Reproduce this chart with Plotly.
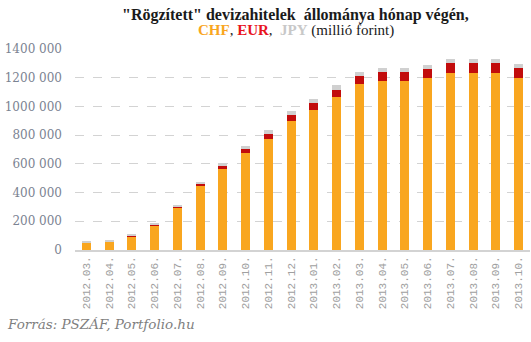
import plotly.graph_objects as go

# Monthly stock of "fixed-rate" FX loans (million HUF), by currency
months = ["2012.03.", "2012.04.", "2012.05.", "2012.06.", "2012.07.", "2012.08.",
          "2012.09.", "2012.10.", "2012.11.", "2012.12.", "2013.01.", "2013.02.",
          "2013.03.", "2013.04.", "2013.05.", "2013.06.", "2013.07.", "2013.08.",
          "2013.09.", "2013.10."]
chf = [51000, 60000, 93000, 169000, 295000, 448000, 566000, 678000, 775000, 901000,
       977000, 1068000, 1159000, 1179000, 1179000, 1200000, 1235000, 1235000,
       1235000, 1200000]
eur = [1000, 1000, 7000, 7000, 7000, 14000, 21000, 28000, 35000, 42000,
       49000, 49000, 55000, 63000, 63000, 63000, 70000, 70000, 70000, 70000]
jpy = [9000, 4000, 7000, 7000, 14000, 14000, 21000, 21000, 28000, 27000,
       28000, 35000, 28000, 28000, 28000, 28000, 28000, 28000, 28000, 28000]

y_ticks = [0, 200000, 400000, 600000, 800000, 1000000, 1200000, 1400000]
y_tick_text = ["0", "200 000", "400 000", "600 000", "800 000",
               "1000 000", "1200 000", "1400 000"]

CHF_COLOR = "#F9A61F"
EUR_COLOR = "#C20C0C"
JPY_COLOR = "#D0D0D0"
GRID = "#D3D3D3"

fig = go.Figure()
for name, vals, col in [("CHF", chf, CHF_COLOR), ("EUR", eur, EUR_COLOR), ("JPY", jpy, JPY_COLOR)]:
    fig.add_trace(go.Bar(x=months, y=vals, name=name, marker=dict(color=col, line=dict(width=0))))

fig.update_layout(
    barmode="stack",
    bargap=0.6,
    showlegend=False,
    width=531, height=342,
    margin=dict(l=75, r=1, t=49, b=92),
    plot_bgcolor="white", paper_bgcolor="white",
    xaxis=dict(
        type="category", tickangle=-90, showgrid=False,
        tickfont=dict(family="Liberation Mono", size=11, color="#a0a0a0"),
        showline=True, linecolor=GRID, linewidth=2, ticks="",
    ),
    yaxis=dict(
        range=[0, 1400000], tickvals=y_ticks, ticktext=y_tick_text,
        tickfont=dict(family="DejaVu Serif", size=12, color="#7b8392"),
        showgrid=True, gridcolor=GRID, griddash="dash", gridwidth=1,
        zeroline=False, ticks="", ticklabelstandoff=12,
    ),
    annotations=[
        dict(text='<b>"Rögzített" devizahitelek  állománya hónap végén,</b>',
             x=295, y=15, xref="paper", yref="paper", showarrow=False,
             font=dict(family="Liberation Serif", size=16, color="#1a1a1a")),
        dict(text=('<b><span style="color:#F9A61F">CHF</span></b>, '
                   '<b><span style="color:#E8141E">EUR</span></b>,  '
                   '<b><span style="color:#C8C8C8">JPY</span></b> (millió forint)'),
             x=296, y=30, xref="paper", yref="paper", showarrow=False,
             font=dict(family="Liberation Serif", size=15, color="#1a1a1a")),
        dict(text="<i>Forrás: PSZÁF, Portfolio.hu</i>",
             x=5, y=324, xref="paper", yref="paper", showarrow=False, xanchor="left",
             font=dict(family="DejaVu Serif", size=13.5, color="#7f7f7f")),
    ],
)

# place the text annotations in pixel coordinates of the full page
for ann in fig.layout.annotations:
    px, py = ann.x, ann.y
    ann.x = (px - 75) / (531 - 75 - 1)
    ann.y = 1 - (py - 49) / (342 - 49 - 92)
    ann.yanchor = "middle"

fig.write_html("out.html")
